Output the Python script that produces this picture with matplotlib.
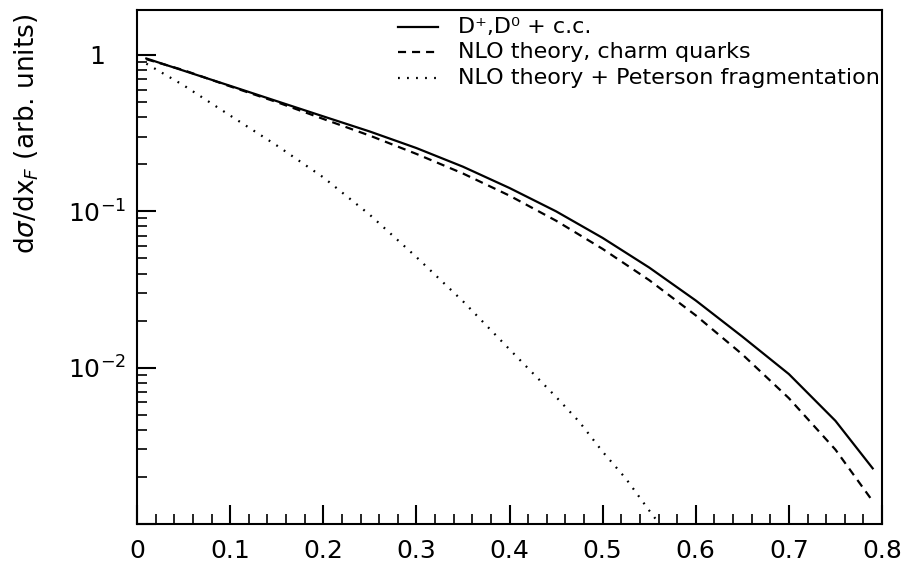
import matplotlib
matplotlib.use("Agg")
import matplotlib.pyplot as plt
from matplotlib.ticker import FixedLocator, LogLocator, NullFormatter, MultipleLocator

plt.rcParams['font.family'] = ['DejaVu Sans']
plt.rcParams['mathtext.fontset'] = 'dejavusans'
plt.rcParams['lines.scale_dashes'] = False

# ---- data ----
xf = [0.01, 0.05, 0.10, 0.15, 0.20, 0.25, 0.30, 0.35, 0.40, 0.45, 0.50,
      0.55, 0.60, 0.65, 0.70, 0.75, 0.79]
d_mesons = [0.95, 0.794, 0.635, 0.507, 0.405, 0.324, 0.254, 0.193, 0.141,
            0.100, 0.0676, 0.0437, 0.0269, 0.0158, 0.0091, 0.00457, 0.00227]
nlo_charm = [0.94, 0.80, 0.63, 0.50, 0.39, 0.305, 0.233, 0.1746, 0.126,
             0.0871, 0.0575, 0.0363, 0.0216, 0.01216, 0.00638, 0.00299, 0.0014]
xf_pet = [0.01, 0.05, 0.10, 0.15, 0.20, 0.25, 0.30, 0.35, 0.40, 0.45, 0.475,
          0.50, 0.525, 0.55, 0.57]
nlo_peterson = [0.88, 0.64, 0.41, 0.264, 0.165, 0.095, 0.051, 0.0266, 0.0131,
                0.0065, 0.0045, 0.0029, 0.00195, 0.00122, 0.00085]

labels = ["D\u207a,D\u2070 + c.c.", "NLO theory, charm quarks",
          "NLO theory + Peterson fragmentation"]
xticks = [0, 0.1, 0.2, 0.3, 0.4, 0.5, 0.6, 0.7, 0.8]
xticklabels = ["0", "0.1", "0.2", "0.3", "0.4", "0.5", "0.6", "0.7", "0.8"]
yticks = [1e-3, 1e-2, 1e-1, 1]
yticklabels = ["", r"$10^{-2}$", r"$10^{-1}$", "1"]
ylabel = r"d$\sigma$/dx$_F$ (arb. units)"

W, H = 910, 567
fig = plt.figure(figsize=(W / 100, H / 100), dpi=100)
L, R, T, B = 137, 882, 10, 524
ax = fig.add_axes([L / W, 1 - B / H, (R - L) / W, (B - T) / H])

lw = 1.6
dash = (0, (5.8, 4.3))
dot = (0, (1.3, 5.2))
ax.plot(xf, d_mesons, color='black', lw=lw, ls='-')
ax.plot(xf, nlo_charm, color='black', lw=lw, ls=dash)
ax.plot(xf_pet, nlo_peterson, color='black', lw=lw, ls=dot)

ax.set_yscale('log')
ax.set_xlim(0, 0.8)
ax.set_ylim(1e-3, 1.94)

ax.xaxis.set_major_locator(FixedLocator(xticks))
ax.set_xticklabels(xticklabels)
ax.xaxis.set_minor_locator(MultipleLocator(0.02))
ax.yaxis.set_major_locator(FixedLocator(yticks))
ax.set_yticklabels(yticklabels)
ax.yaxis.set_minor_locator(LogLocator(base=10, subs=range(2, 10)))
ax.yaxis.set_minor_formatter(NullFormatter())

ax.tick_params(which='major', direction='in', length=14, width=1.5,
               top=False, right=False, labelsize=18)
ax.tick_params(which='minor', direction='in', length=7, width=1.2,
               top=False, right=False)
ax.tick_params(axis='x', which='major', pad=11)
ax.tick_params(axis='y', which='major', pad=29)
for lbl in ax.get_yticklabels():
    lbl.set_ha('center')

for s in ax.spines.values():
    s.set_linewidth(1.5)

fig.text(27 / W, 1 - 14 / H, ylabel, rotation=90, ha='center', va='top',
         fontsize=19)

# legend (manual, top right inside the axes)
styles = ['-', dash, dot]
rows = [27, 52, 78]
for lab, st, py in zip(labels, styles, rows):
    yy = (B - py) / (B - T)
    x0 = (398 - L) / (R - L)
    x1 = (438 - L) / (R - L)
    ax.plot([x0, x1], [yy, yy], transform=ax.transAxes, color='black',
            lw=lw, ls=st, clip_on=False)
    ax.text((458 - L) / (R - L), yy, lab, transform=ax.transAxes,
            ha='left', va='center', fontsize=16)

fig.savefig("out.png", dpi=100)
